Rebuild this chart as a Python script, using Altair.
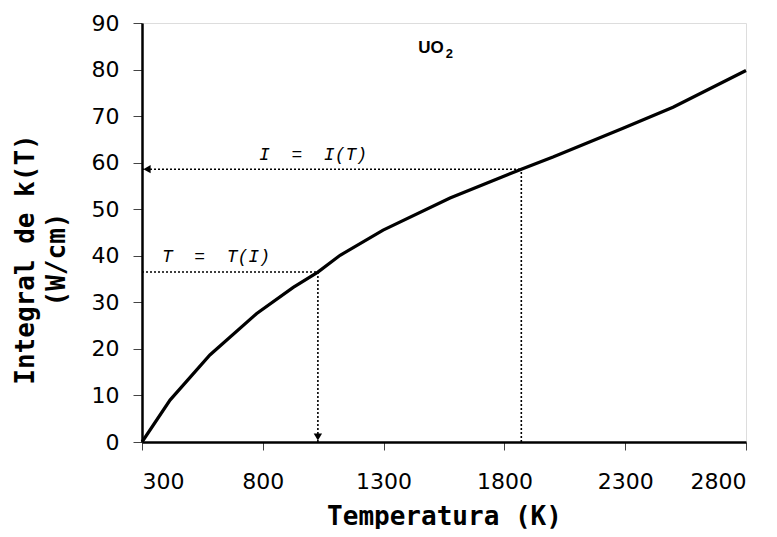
import altair as alt
import pandas as pd

# Curve
temps = [300, 416, 581, 775, 926, 1028, 1120, 1298, 1575, 1870, 2001, 2291, 2498, 2800]
integral = [0, 9.0, 18.7, 27.6, 33.2, 36.5, 40.1, 45.5, 52.4, 58.6, 61.2, 67.4, 71.9, 79.8]

# Read-off guide points
guide_T = [1870, 1028]
guide_I = [58.6, 36.5]

x_ticks = [300, 800, 1300, 1800, 2300, 2800]
y_ticks = [0, 10, 20, 30, 40, 50, 60, 70, 80, 90]

df = pd.DataFrame({"T": temps, "I": integral})

xs = alt.Scale(domain=[300, 2800], nice=False, zero=False)
ys = alt.Scale(domain=[0, 90], nice=False)

tick_font = "DejaVu Sans"
mono = "DejaVu Sans Mono"
NB = "\u00a0"

line = alt.Chart(df).mark_line(color="black", strokeWidth=3.2).encode(
    x=alt.X("T:Q", scale=xs,
            axis=alt.Axis(values=x_ticks, format="d", title="Temperatura (K)", grid=False,
                          labelFont=tick_font, labelFontSize=22, labelColor="black",
                          labelPadding=21, tickColor="#444", tickSize=8,
                          domainColor="black", domainWidth=2.5,
                          titleFont=mono, titleFontSize=26, titleFontWeight="bold",
                          titleColor="black", titlePadding=11)),
    y=alt.Y("I:Q", scale=ys,
            axis=alt.Axis(values=y_ticks, format="d", title=["Integral de k(T)", "(W/cm)"], grid=False,
                          labelFont=tick_font, labelFontSize=22, labelColor="black",
                          labelPadding=14, tickColor="#444", tickSize=9,
                          domainColor="black", domainWidth=2.5,
                          titleFont=mono, titleFontSize=26, titleFontWeight="bold",
                          titleColor="black", titlePadding=22, titleLineHeight=31,
                          titleY=236)),
)

gdf = pd.DataFrame({"T": guide_T, "I": guide_I, "T0": [300, 300], "I0": [0, 0]})

hline = alt.Chart(gdf).mark_rule(color="black", strokeWidth=1.6, strokeDash=[2, 2]).encode(
    x=alt.X("T0:Q", scale=xs), x2="T:Q", y=alt.Y("I:Q", scale=ys))
vline = alt.Chart(gdf).mark_rule(color="black", strokeWidth=1.6, strokeDash=[2, 2]).encode(
    x=alt.X("T:Q", scale=xs), y=alt.Y("I0:Q", scale=ys), y2="I:Q")

arrow_left = alt.Chart(gdf.iloc[[0]]).mark_point(
    shape="triangle-left", filled=True, color="black", size=70, opacity=1).encode(
    x=alt.X("T0:Q", scale=xs), y=alt.Y("I:Q", scale=ys), xOffset=alt.value(5))
arrow_down = alt.Chart(gdf.iloc[[1]]).mark_point(
    shape="triangle-down", filled=True, color="black", size=70, opacity=1).encode(
    x=alt.X("T:Q", scale=xs), y=alt.Y("I0:Q", scale=ys), yOffset=alt.value(-5))

lab1 = alt.Chart(pd.DataFrame({"t": [f"I{NB}{NB}={NB}{NB}I(T)"]})).mark_text(
    font="Liberation Mono", fontStyle="italic", fontSize=18, color="black").encode(
    x=alt.datum(1008, scale=xs), y=alt.datum(61.7, scale=ys), text="t:N")
lab2 = alt.Chart(pd.DataFrame({"t": [f"T{NB}{NB}={NB}{NB}T(I)"]})).mark_text(
    font="Liberation Mono", fontStyle="italic", fontSize=18, color="black").encode(
    x=alt.datum(606, scale=xs), y=alt.datum(39.7, scale=ys), text="t:N")

uo = alt.Chart(pd.DataFrame({"t": ["UO"]})).mark_text(
    font="Liberation Sans", fontWeight="bold", fontSize=17, color="black").encode(
    x=alt.datum(1496, scale=xs), y=alt.datum(84.7, scale=ys), text="t:N")
sub2 = alt.Chart(pd.DataFrame({"t": ["2"]})).mark_text(
    font="Liberation Sans", fontWeight="bold", fontSize=13, color="black", align="left").encode(
    x=alt.datum(1557, scale=xs), y=alt.datum(83.4, scale=ys), text="t:N")

chart = alt.layer(hline, vline, arrow_left, arrow_down, line, lab1, lab2, uo, sub2).properties(
    width=604, height=419,
    autosize=alt.AutoSizeParams(type="none"),
    padding={"left": 134, "top": 15, "right": 15, "bottom": 87},
).configure_view(stroke="black", strokeWidth=2.5).configure(background="white")

chart.save("out.html", embed_options={"renderer": "svg", "actions": False})
